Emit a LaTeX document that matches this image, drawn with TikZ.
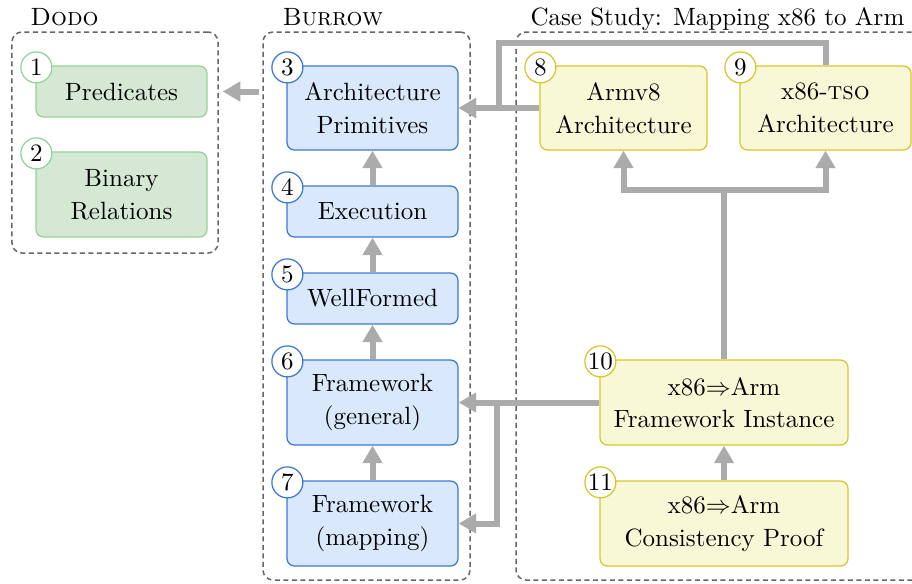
\documentclass[tikz,border=0pt]{standalone}
\usetikzlibrary{arrows.meta}
\definecolor{grnfill}{HTML}{D5E8D4}
\definecolor{grnline}{HTML}{93D39A}
\definecolor{blufill}{HTML}{DAE8FC}
\definecolor{bluline}{HTML}{3C78D8}
\definecolor{ylwfill}{HTML}{F9F8D6}
\definecolor{ylwline}{HTML}{D6C72E}
\definecolor{linkgray}{HTML}{ABABAB}
\definecolor{groupgray}{HTML}{666666}
\begin{document}
\begin{tikzpicture}[
      x=0.4pt, y=-0.4pt,
      box/.style={draw, rounded corners=3pt, line width=0.5pt, align=center,
                  font={\fontsize{10}{13}\selectfont}, inner sep=1pt},
      grnbox/.style={box, fill=grnfill, draw=grnline, minimum width=68.4pt},
      blubox/.style={box, fill=blufill, draw=bluline, minimum width=68.4pt},
      ylwbox/.style={box, fill=ylwfill, draw=ylwline},
      badge/.style={circle, draw, fill=white, line width=0.5pt,
                    minimum size=12.4pt, inner sep=0pt},
      group/.style={draw=groupgray, dash pattern=on 2pt off 1.4pt,
                    line width=0.6pt, rounded corners=4pt},
      title/.style={anchor=base west, inner sep=0pt},
      link/.style={draw=linkgray, line width=2.4pt,
                   -{Triangle[length=7pt,width=7.6pt]}}
    ]
      \clip (0,0) rectangle (912,583);
      % groups
      \node[group, minimum width=82.4pt, minimum height=88.4pt] (dodo) at (115,142.5) {};
      \node[group, minimum width=82.8pt, minimum height=219.2pt] (burrow) at (366.5,306) {};
      \node[group, minimum width=165.6pt, minimum height=219.2pt] (case) at (723,306) {};
      \node[title] (tdodo) at (30,25) {\textsc{Dodo}};
      \node[title] (tburrow) at (282,25) {\textsc{Burrow}};
      \node[title] (tcase) at (530,25) {Case Study: Mapping x86 to Arm};

      % Dodo
      \node[grnbox, minimum height=20.4pt] (n1) at (121.5,91.5) {Predicates};
      \node[grnbox, minimum height=34pt] (n2) at (121.5,194.5) {Binary\\Relations};

      % Burrow
      \node[blubox, minimum height=33.6pt] (n3) at (372.5,108) {Architecture\\Primitives};
      \node[blubox, minimum height=20.4pt] (n4) at (372.5,211.5) {Execution};
      \node[blubox, minimum height=20.4pt] (n5) at (372.5,298.5) {WellFormed};
      \node[blubox, minimum height=34pt] (n6) at (372.5,402.5) {Framework\\(general)};
      \node[blubox, minimum height=34pt] (n7) at (372.5,523.5) {Framework\\(mapping)};

      % case study
      \node[ylwbox, minimum width=66.8pt, minimum height=33.6pt] (n8) at (623.5,108) {Armv8\\Architecture};
      \node[ylwbox, minimum width=68.4pt, minimum height=33.6pt] (n9) at (825.5,108) {x86-\textsc{tso}\\Architecture};
      \node[ylwbox, minimum width=99.2pt, minimum height=34pt] (n10) at (724,402.5) {x86$\Rightarrow$Arm\\Framework Instance};
      \node[ylwbox, minimum width=99.2pt, minimum height=34pt] (n11) at (724,523.5) {x86$\Rightarrow$Arm\\Consistency Proof};

      % number badges
      \foreach \n/\c in {1/grnline,2/grnline,3/bluline,4/bluline,5/bluline,6/bluline,
                         7/bluline,8/ylwline,9/ylwline,10/ylwline,11/ylwline} {
        \node[badge, draw=\c] (b\n) at ([shift={(1,2)}]n\n.north west) {\n};
      }

      % connectors
      \draw[link, shorten <=1.2pt, shorten >=1.6pt] (burrow.west |- n1) -- (dodo.east |- n1);
      \foreach \a/\b in {4/3,5/4,6/5,7/6} {
        \draw[link] (n\a) -- (n\b);
      }
      \coordinate (topbend) at (499,43);
      \coordinate (fork) at (724,190);
      \coordinate (split) at (497,402.5);
      \draw[link] (n8.west) -- (n3.east);
      \draw[link] (n9.north) |- (topbend) |- (n3.east);
      \draw[link] (n10.north) -- (fork) -| (n8.south);
      \draw[link] (fork) -| (n9.south);
      \draw[link] (n10.west) -- (n6.east);
      \draw[link] (split) |- (n7.east);
      \draw[link] (n11) -- (n10);
    \end{tikzpicture}
\end{document}
